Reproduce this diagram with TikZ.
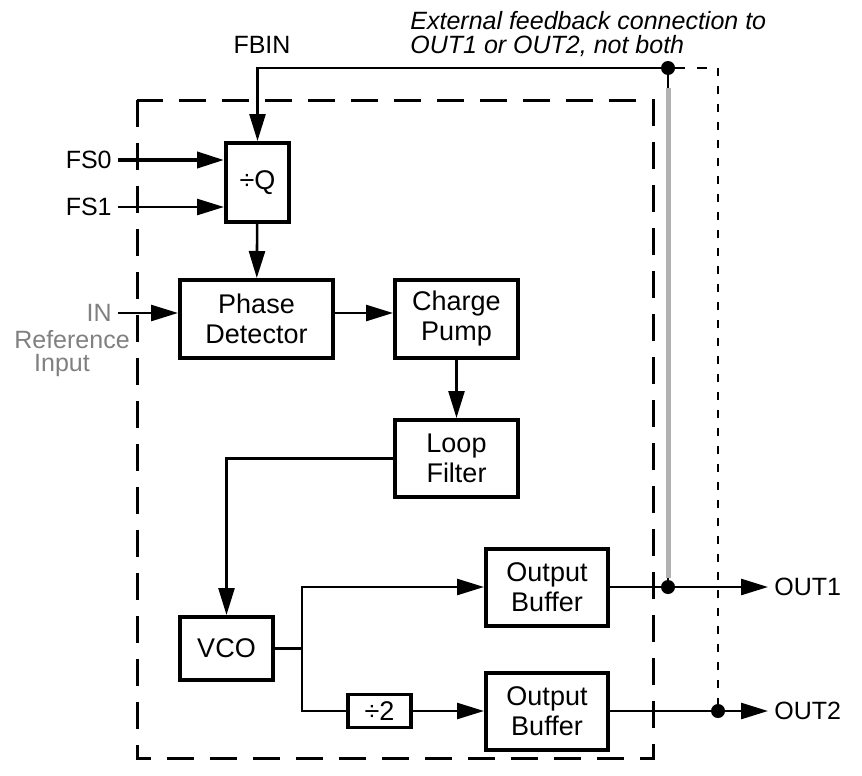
\documentclass[tikz,border=0pt]{standalone}
\usepackage{fontspec}
\setmainfont{Liberation Sans}
\usetikzlibrary{arrows.meta}

\begin{document}
\begin{tikzpicture}[x=0.5pt, y=-0.5pt,
  every node/.style={font=\fontsize{12.5}{15}\selectfont, inner sep=3pt},
  blk/.style={draw, line width=2pt, align=center, inner sep=0pt, font=\fontsize{13.5}{15}\selectfont},
  wire/.style={line width=1.3pt},
  arr/.style={wire, -{Triangle[length=13.5pt, width=8pt]}},
  dot/.style={circle, fill, inner sep=0pt, minimum size=7pt}]
\useasboundingbox (0,0) rectangle (862,776);

\draw[line width=1.5pt, dash pattern=on 13.5pt off 8pt] (137,100) rectangle (653,758);

\node[blk, minimum width=31.5pt, minimum height=39.5pt] (divq) at (257.5,182.5) {÷Q};
\node[blk, minimum width=76.5pt, minimum height=39pt] (pd) at (256.5,319) {Phase\\Detector};
\node[blk, minimum width=61.5pt, minimum height=39pt] (cp) at (456.5,319) {Charge\\Pump};
\node[blk, minimum width=61.5pt, minimum height=38.5pt] (lf) at (456.5,458.5) {Loop\\Filter};
\node[blk, minimum width=46.5pt, minimum height=31.5pt] (vco) at (226.5,648.5) {VCO};
\node[blk, line width=1.6pt, minimum width=31.5pt, minimum height=16.5pt] (div2) at (379.5,711) {÷2};
\node[blk, minimum width=61pt, minimum height=38.5pt] (ob1) at (547,587) {Output\\Buffer};
\node[blk, minimum width=61pt, minimum height=38.5pt] (ob2) at (547,711) {Output\\Buffer};

\node (fbin) at (262,45) {FBIN};
\node[anchor=base west, inner sep=0pt, font=\fontsize{12.5}{15}\selectfont\itshape] (note1) at (410,29) {External feedback connection to};
\node[anchor=base west, inner sep=0pt, font=\fontsize{12.5}{15}\selectfont\itshape] (note2) at (410,54) {OUT1 or OUT2, not both};
\node[anchor=east] (fs0) at (118,160) {FS0};
\node[anchor=east] (fs1) at (118,207) {FS1};
\node[anchor=east, text=gray] (in) at (118,313) {IN};
\node[text=gray] (refl) at (72,340) {Reference};
\node[text=gray] (inpl) at (62,365) {Input};
\node[anchor=west] (out1) at (768,587) {OUT1};
\node[anchor=west] (out2) at (768,711) {OUT2};

\node[dot] (fbdot) at (668,68) {};
\node[dot] (d1) at (668,587) {};
\node[dot] (d2) at (718,711) {};
\coordinate (fbc) at (718,68);
\coordinate (br) at (302,648.5);

\draw[arr] (fbdot) -| (divq.north);
\draw[arr, line width=2pt] (fs0) -- (divq.west |- fs0);
\draw[arr] (fs1) -- (divq.west |- fs1);
\draw[arr] (divq) -- (pd);
\draw[arr] (in) -- (pd.west |- in);
\draw[arr] (pd.east |- in) -- (cp.west |- in);
\draw[arr] (cp) -- (lf);
\draw[arr] (lf.west) -| (vco.north);
\draw[wire] (vco) -- (br);
\draw[arr] (br) |- (ob1.west);
\draw[wire] (br) |- (div2.west);
\draw[arr] (div2) -- (ob2.west);
\draw[arr] (ob1) -- (out1);
\draw[arr] (ob2) -- (out2);

\draw[line width=0.8pt] (fbdot) -- (d1);
\draw[line width=2.5pt, gray!60] (668,88) -- (668,578);
\draw[line width=1.2pt, dash pattern=on 5pt off 6pt] (fbdot) -- (fbc);
\draw[line width=0.8pt, dash pattern=on 4pt off 5pt] (fbc) -- (d2);
\end{tikzpicture}
\end{document}
